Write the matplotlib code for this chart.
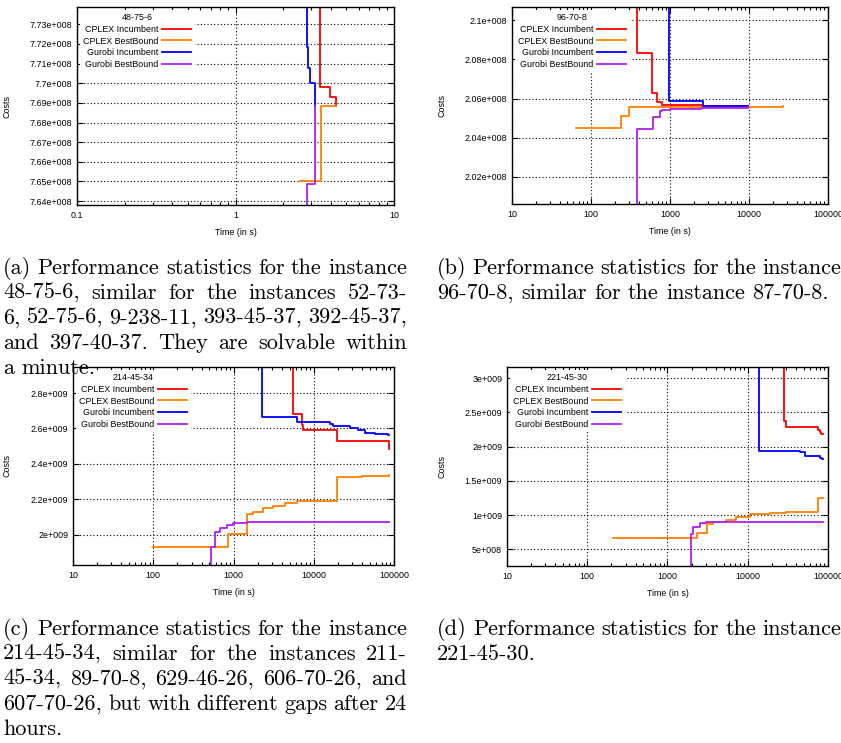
import matplotlib
matplotlib.use("Agg")
import matplotlib.pyplot as plt
import numpy as np
from matplotlib.ticker import FixedLocator, LogLocator, NullFormatter, FuncFormatter

# ---- data (time in s, costs) ----
# (a) 48-75-6
a_cplex_inc_t = [3.43, 3.43, 3.94, 4.30]
a_cplex_inc_v = [7.80e8, 7.6982e8, 7.6931e8, 7.6884e8]
a_cplex_bb_t = [2.55, 3.45, 4.30]
a_cplex_bb_v = [7.650e8, 7.6884e8, 7.6884e8]
a_gurobi_inc_t = [2.82, 2.82, 2.86, 2.97, 3.18]
a_gurobi_inc_v = [7.80e8, 7.7182e8, 7.7080e8, 7.7002e8, 7.6884e8]
a_gurobi_bb_t = [2.82, 2.82, 3.18]
a_gurobi_bb_v = [7.60e8, 7.6488e8, 7.6884e8]

# (b) 96-70-8
b_cplex_inc_t = [387, 387, 587, 679, 785, 2600, 9760]
b_cplex_inc_v = [2.12e8, 2.0833e8, 2.0629e8, 2.0583e8, 2.0569e8, 2.0565e8, 2.0562e8]
b_cplex_bb_t = [64.3, 240, 306, 1000, 3000, 27000]
b_cplex_bb_v = [2.0450e8, 2.0510e8, 2.0556e8, 2.0557e8, 2.0559e8, 2.0561e8]
b_gurobi_inc_t = [971, 971, 2590, 9760]
b_gurobi_inc_v = [2.12e8, 2.0586e8, 2.0564e8, 2.0564e8]
b_gurobi_bb_t = [387, 387, 616, 748, 800, 1000, 2500, 9760]
b_gurobi_bb_v = [1.99e8, 2.0447e8, 2.0505e8, 2.0535e8, 2.0544e8, 2.0549e8, 2.0553e8, 2.0557e8]

# (c) 214-45-34
c_cplex_inc_t = [5546, 5546, 7040, 7250, 19550, 86000]
c_cplex_inc_v = [3.0e9, 2.683e9, 2.621e9, 2.5925e9, 2.5283e9, 2.483e9]
c_cplex_bb_t = [100, 854, 1486, 1764, 2350, 3129, 4369, 6100, 19550, 40000, 86660]
c_cplex_bb_v = [1.928e9, 2.002e9, 2.115e9, 2.130e9, 2.149e9, 2.164e9, 2.181e9,
                2.187e9, 2.328e9, 2.333e9, 2.338e9]
c_gurobi_inc_t = [2283, 2283, 6100, 15850, 17440, 23200, 28100, 35700, 43200, 57500, 84000, 86700]
c_gurobi_inc_v = [3.0e9, 2.6623e9, 2.634e9, 2.626e9, 2.615e9, 2.611e9, 2.602e9,
                  2.589e9, 2.574e9, 2.568e9, 2.564e9, 2.564e9]
c_gurobi_bb_t = [530, 530, 594, 679, 822, 995, 1458, 86660]
c_gurobi_bb_v = [1.80e9, 1.932e9, 2.017e9, 2.036e9, 2.055e9, 2.064e9, 2.070e9, 2.070e9]

# (d) 221-45-30
d_cplex_inc_t = [28030, 28030, 29690, 30250, 75070, 78750, 82600, 86630]
d_cplex_inc_v = [3.3e9, 2.3665e9, 2.3324e9, 2.2788e9, 2.2447e9, 2.2057e9, 2.1862e9, 2.1862e9]
d_cplex_bb_t = [209, 2354, 3136, 3690, 5410, 7206, 10560, 18760, 30250, 75070, 86630]
d_cplex_bb_v = [0.661e9, 0.7437e9, 0.8656e9, 0.8948e9, 0.9289e9, 0.9679e9,
                1.0118e9, 1.0264e9, 1.041e9, 1.2457e9, 1.2457e9]
d_gurobi_inc_t = [13680, 13680, 44360, 51190, 78750, 84990, 86630]
d_gurobi_inc_v = [3.3e9, 1.9376e9, 1.9133e9, 1.8548e9, 1.8353e9, 1.8158e9, 1.8158e9]
d_gurobi_bb_t = [1982, 1982, 2099, 2517, 3048, 3690, 86630]
d_gurobi_bb_v = [0.2e9, 0.7194e9, 0.8315e9, 0.880e9, 0.8948e9, 0.9046e9, 0.9046e9]

series_names = ["CPLEX Incumbent", "CPLEX BestBound", "Gurobi Incumbent", "Gurobi BestBound"]
instances = ["48-75-6", "96-70-8", "214-45-34", "221-45-30"]

a_yticks = [7.64e8, 7.65e8, 7.66e8, 7.67e8, 7.68e8, 7.69e8, 7.70e8, 7.71e8, 7.72e8, 7.73e8]
b_yticks = [2.02e8, 2.04e8, 2.06e8, 2.08e8, 2.10e8]
c_yticks = [2.0e9, 2.2e9, 2.4e9, 2.6e9, 2.8e9]
d_yticks = [5e8, 1.0e9, 1.5e9, 2.0e9, 2.5e9, 3.0e9]
a_xticks = [0.1, 1, 10]
a_xlabels = ["0.1", "1", "10"]
bcd_xticks = [10, 100, 1000, 10000, 100000]
bcd_xlabels = ["10", "100", "1000", "10000", "100000"]

captions_a = ["(a) Performance statistics for the instance",
              "48-75-6, similar for the instances 52-73-",
              "6, 52-75-6, 9-238-11, 393-45-37, 392-45-37,",
              "and 397-40-37. They are solvable within",
              "a minute."]
captions_b = ["(b) Performance statistics for the instance",
              "96-70-8, similar for the instance 87-70-8."]
captions_c = ["(c) Performance statistics for the instance",
              "214-45-34, similar for the instances 211-",
              "45-34, 89-70-8, 629-46-26, 606-70-26, and",
              "607-70-26, but with different gaps after 24",
              "hours."]
captions_d = ["(d) Performance statistics for the instance",
              "221-45-30."]

colors = ["#ff0000", "#ff8000", "#0000ff", "#b020f0"]

W, H = 841, 743
fig = plt.figure(figsize=(W / 100, H / 100), dpi=100)
plt.rcParams["font.family"] = ["Liberation Sans", "DejaVu Sans"]
FS = 6.4


def gp_sci(v, pos=None):
    e = int(np.floor(np.log10(abs(v)) + 1e-9))
    m = round(v / 10 ** e, 6)
    return f"{m:g}e+{e:03d}"


panels = [
    # pixel box (left, top, right, bottom), limits, series, ticks, x of the y label
    dict(box=(77, 7, 394, 205), xlim=(0.1, 10), ylim=(7.638e8, 7.7388e8),
         data=[(a_cplex_inc_t, a_cplex_inc_v), (a_cplex_bb_t, a_cplex_bb_v),
               (a_gurobi_inc_t, a_gurobi_inc_v), (a_gurobi_bb_t, a_gurobi_bb_v)],
         yt=a_yticks, xt=a_xticks, xl=a_xlabels, ylab_x=12),
    dict(box=(512, 7, 828, 204), xlim=(10, 1e5), ylim=(2.0062e8, 2.1068e8),
         data=[(b_cplex_inc_t, b_cplex_inc_v), (b_cplex_bb_t, b_cplex_bb_v),
               (b_gurobi_inc_t, b_gurobi_inc_v), (b_gurobi_bb_t, b_gurobi_bb_v)],
         yt=b_yticks, xt=bcd_xticks, xl=bcd_xlabels, ylab_x=447),
    dict(box=(73, 367, 394, 565), xlim=(10, 1e5), ylim=(1.828e9, 2.947e9),
         data=[(c_cplex_inc_t, c_cplex_inc_v), (c_cplex_bb_t, c_cplex_bb_v),
               (c_gurobi_inc_t, c_gurobi_inc_v), (c_gurobi_bb_t, c_gurobi_bb_v)],
         yt=c_yticks, xt=bcd_xticks, xl=bcd_xlabels, ylab_x=12),
    dict(box=(507, 367, 828, 566), xlim=(10, 1e5), ylim=(0.256e9, 3.161e9),
         data=[(d_cplex_inc_t, d_cplex_inc_v), (d_cplex_bb_t, d_cplex_bb_v),
               (d_gurobi_inc_t, d_gurobi_inc_v), (d_gurobi_bb_t, d_gurobi_bb_v)],
         yt=d_yticks, xt=bcd_xticks, xl=bcd_xlabels, ylab_x=447),
]

for p, inst in zip(panels, instances):
    l, t, r, b = p["box"]
    ax = fig.add_axes([l / W, 1 - b / H, (r - l) / W, (b - t) / H])
    for (xs, ys), name, c in zip(p["data"], series_names, colors):
        ax.step(xs, ys, where="post", color=c, lw=1.3, label=name)
    ax.set_xscale("log")
    ax.set_xlim(*p["xlim"])
    ax.set_ylim(*p["ylim"])
    ax.xaxis.set_major_locator(FixedLocator(p["xt"]))
    ax.set_xticklabels(p["xl"])
    ax.xaxis.set_minor_locator(LogLocator(subs=np.arange(2, 10)))
    ax.xaxis.set_minor_formatter(NullFormatter())
    ax.yaxis.set_major_locator(FixedLocator(p["yt"]))
    ax.yaxis.set_major_formatter(FuncFormatter(gp_sci))
    ax.tick_params(which="both", direction="in", top=True, right=True, labelsize=FS, width=0.8)
    ax.tick_params(which="major", length=4.5)
    ax.tick_params(which="minor", length=2.5)
    ax.tick_params(axis="x", pad=4.5)
    ax.tick_params(axis="y", pad=3.5)
    ax.grid(True, which="major", color="black", ls=(0, (1, 2)), lw=0.8)
    for s in ax.spines.values():
        s.set_linewidth(1.0)
    ax.set_ylabel("Costs", fontsize=FS)
    ax.yaxis.set_label_coords((p["ylab_x"] - l) / (r - l), 0.5)
    ax.set_xlabel("Time (in s)", fontsize=FS)
    ax.xaxis.set_label_coords(0.5, -0.14)
    ax.xaxis.label.set_va("center")
    leg = ax.legend(loc="upper left", title=inst, title_fontsize=FS, fontsize=FS,
                    markerfirst=False, frameon=True, fancybox=False, framealpha=1,
                    edgecolor="none", facecolor="white", handlelength=3.3,
                    handletextpad=0.4, labelspacing=0.3, borderpad=0.4, borderaxespad=0.3)
    leg.get_title().set_fontsize(FS)

# ---- captions (justified like LaTeX) ----
renderer = fig.canvas.get_renderer()
CFS = 16.0


def put_caption(lines, x0, first_baseline, width, step=25):
    for k, line in enumerate(lines):
        y = 1 - (first_baseline + k * step) / H
        words = line.split(" ")
        texts = [fig.text(0, y, w, fontsize=CFS, family="cmr10", va="baseline", ha="left")
                 for w in words]
        widths = [tx.get_window_extent(renderer).width for tx in texts]
        if k < len(lines) - 1 and len(words) > 1:
            gap = (width - sum(widths)) / (len(words) - 1)
        else:
            gap = CFS * 100 / 72 * 0.333
        x = x0
        for tx, w in zip(texts, widths):
            tx.set_x(x / W)
            x += w + gap


put_caption(captions_a, 3, 274, 404)
put_caption(captions_b, 437, 274, 404)
put_caption(captions_c, 3, 635, 404)
put_caption(captions_d, 437, 635, 404)

fig.savefig("out.png", dpi=100)
